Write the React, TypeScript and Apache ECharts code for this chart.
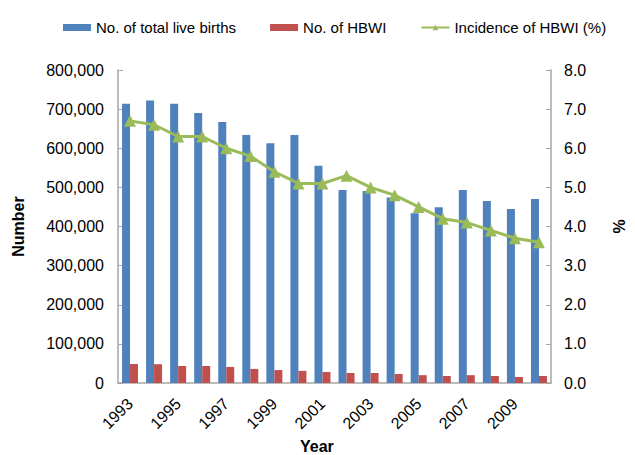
import React, { useEffect, useRef } from "react";
import * as echarts from "echarts";

const years = ["1993","1994","1995","1996","1997","1998","1999","2000","2001","2002","2003","2004","2005","2006","2007","2008","2009","2010"];
const totalBirths = [714000,722000,714000,690000,667000,634000,613000,634000,555000,493000,491000,474000,434000,449000,493000,465000,445000,470000];
const hbwi = [48500,48000,43500,43500,41000,36000,33000,31000,28000,25500,25500,23000,20000,18000,20000,18000,15500,18000];
const incidence = [6.7,6.6,6.3,6.3,6.0,5.8,5.4,5.1,5.1,5.3,5.0,4.8,4.5,4.2,4.1,3.9,3.7,3.6];

const FONT = "'Liberation Sans', Arial, sans-serif";
const AXIS_COLOR = "#a6a6a6";

export default function App() {
  const ref = useRef<HTMLDivElement>(null);
  useEffect(() => {
    if (!ref.current) return;
    document.body.style.margin = "0";
    const chart = echarts.init(ref.current, undefined, { renderer: "svg" });
    chart.setOption({
      animation: false,
      textStyle: { fontFamily: FONT },
      legend: {
        left: 58,
        top: 15,
        width: 600,
        itemWidth: 28,
        itemHeight: 7,
        itemGap: 34,
        textStyle: { fontSize: 15, color: "#000", fontFamily: FONT },
        data: [
          { name: "No. of total live births", icon: "rect" },
          { name: "No. of HBWI", icon: "rect" },
          { name: "Incidence of HBWI (%)" },
        ],
      },
      grid: { left: 118, right: 70, top: 70, bottom: 72 },
      xAxis: {
        type: "category",
        data: years,
        boundaryGap: true,
        axisLine: { lineStyle: { color: AXIS_COLOR, width: 1.5 } },
        axisTick: { inside: true, interval: 0, length: 5, lineStyle: { color: AXIS_COLOR } },
        axisLabel: { interval: 1, rotate: 45, fontSize: 16, color: "#000", fontFamily: FONT, margin: 18 },
      },
      yAxis: [
        {
          type: "value",
          min: 0,
          max: 800000,
          interval: 100000,
          name: "Number",
          nameLocation: "middle",
          nameGap: 92,
          nameTextStyle: { fontSize: 16, fontWeight: "bold", color: "#000", fontFamily: FONT },
          splitLine: { show: false },
          axisLine: { show: true, lineStyle: { color: AXIS_COLOR, width: 1.5 } },
          axisTick: { show: true, inside: true, length: 5, lineStyle: { color: AXIS_COLOR } },
          axisLabel: {
            fontSize: 16,
            color: "#000",
            fontFamily: FONT,
            margin: 14,
            formatter: (v: number) => v.toLocaleString("en-US"),
          },
        },
        {
          type: "value",
          min: 0,
          max: 8,
          interval: 1,
          name: "%",
          nameLocation: "middle",
          nameGap: 60,
          nameTextStyle: { fontSize: 16, fontWeight: "bold", color: "#000", fontFamily: FONT },
          splitLine: { show: false },
          axisLine: { show: true, lineStyle: { color: AXIS_COLOR, width: 1.5 } },
          axisTick: { show: true, inside: true, length: 5, lineStyle: { color: AXIS_COLOR } },
          axisLabel: {
            fontSize: 16,
            color: "#000",
            fontFamily: FONT,
            margin: 13,
            formatter: (v: number) => v.toFixed(1),
          },
        },
      ],
      graphic: [
        {
          type: "text",
          left: 300,
          top: 438,
          style: { text: "Year", fontSize: 16, fontWeight: "bold", fill: "#000", fontFamily: FONT },
        },
      ],
      series: [
        {
          name: "No. of total live births",
          type: "bar",
          data: totalBirths,
          barWidth: 8,
          barGap: "0%",
          itemStyle: { color: "#4f81bd" },
        },
        {
          name: "No. of HBWI",
          type: "bar",
          data: hbwi,
          barWidth: 8,
          barGap: "0%",
          itemStyle: { color: "#c0504d" },
        },
        {
          name: "Incidence of HBWI (%)",
          type: "line",
          yAxisIndex: 1,
          data: incidence,
          symbol: "triangle",
          symbolSize: 12,
          lineStyle: { color: "#9bbb59", width: 3 },
          itemStyle: { color: "#9bbb59" },
        },
      ],
    });
    return () => chart.dispose();
  }, []);
  return <div ref={ref} style={{ width: 635, height: 455 }} />;
}
